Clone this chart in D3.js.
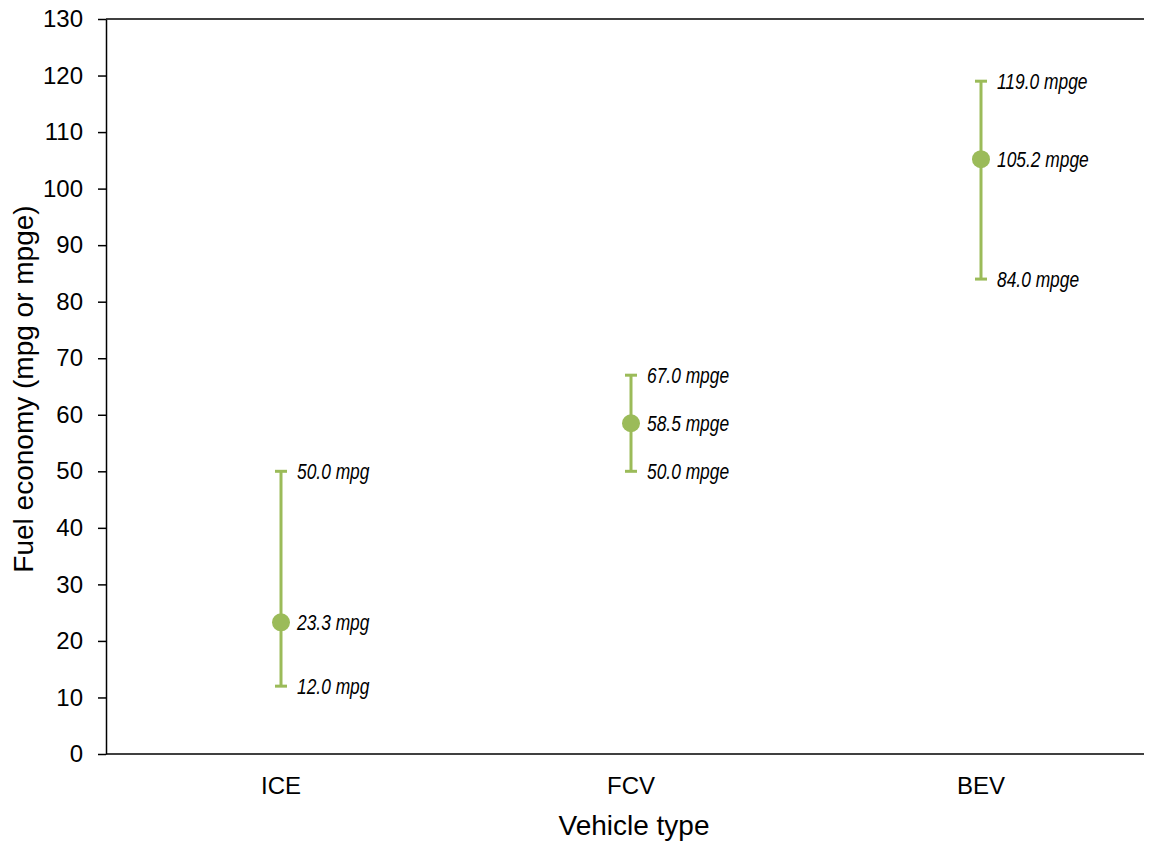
<!DOCTYPE html>
<html>
<head>
<meta charset="utf-8">
<script src="https://cdn.jsdelivr.net/npm/d3@7"></script>
<style>
  body { margin: 0; background: #fff; }
  text { font-family: "Liberation Sans", Arial, sans-serif; }
</style>
</head>
<body>
<script>
var categories = ["ICE", "FCV", "BEV"];
var meanValues = [23.3, 58.5, 105.2];
var lowValues = [12.0, 50.0, 84.0];
var highValues = [50.0, 67.0, 119.0];
var units = ["mpg", "mpge", "mpge"];
var yTicks = d3.range(0, 131, 10);

var width = 1151, height = 842;
var plotLeft = 106, plotRight = 1144, plotTop = 19, plotBottom = 754;
var green = "#9bbb59";

var svg = d3.select("body").append("svg")
    .attr("width", width)
    .attr("height", height);

var x = d3.scalePoint()
    .domain(categories)
    .range([plotLeft, plotLeft + 1050])
    .padding(0.5);

var y = d3.scaleLinear()
    .domain([0, 130])
    .range([plotBottom, plotTop]);

// y axis
var yAxis = d3.axisLeft(y)
    .tickValues(yTicks)
    .tickSize(8)
    .tickSizeOuter(0);
var gy = svg.append("g")
    .attr("transform", `translate(${plotLeft},0)`)
    .call(yAxis);
gy.select(".domain").attr("stroke", "#000").attr("stroke-width", 1.5);
gy.selectAll(".tick line").attr("stroke", "#000").attr("stroke-width", 1.5);
gy.selectAll(".tick text")
    .attr("x", -23)
    .style("font-size", "24px")
    .attr("fill", "#000");

// frame top and bottom
svg.append("line")
    .attr("x1", plotLeft).attr("x2", plotRight)
    .attr("y1", y(130)).attr("y2", y(130))
    .attr("stroke", "#000").attr("stroke-width", 1.5);
svg.append("line")
    .attr("x1", plotLeft).attr("x2", plotRight)
    .attr("y1", y(0)).attr("y2", y(0))
    .attr("stroke", "#000").attr("stroke-width", 1.5);

// category labels
svg.selectAll(".cat")
    .data(categories)
    .enter()
    .append("text")
    .attr("class", "cat")
    .attr("x", d => x(d))
    .attr("y", 794)
    .attr("text-anchor", "middle")
    .style("font-size", "24px")
    .text(d => d);

// axis titles
svg.append("text")
    .attr("x", 634)
    .attr("y", 835)
    .attr("text-anchor", "middle")
    .style("font-size", "28px")
    .text("Vehicle type");
svg.append("text")
    .attr("transform", `translate(33,389) rotate(-90)`)
    .attr("text-anchor", "middle")
    .style("font-size", "28px")
    .text("Fuel economy (mpg or mpge)");

// error bars
var g = svg.selectAll(".bar")
    .data(categories)
    .enter()
    .append("g")
    .attr("class", "bar");

g.append("line")
    .attr("x1", d => x(d)).attr("x2", d => x(d))
    .attr("y1", (d, i) => y(lowValues[i]))
    .attr("y2", (d, i) => y(highValues[i]))
    .attr("stroke", green).attr("stroke-width", 3);

g.append("line")
    .attr("x1", d => x(d) - 6).attr("x2", d => x(d) + 6)
    .attr("y1", (d, i) => y(lowValues[i]))
    .attr("y2", (d, i) => y(lowValues[i]))
    .attr("stroke", green).attr("stroke-width", 3);

g.append("line")
    .attr("x1", d => x(d) - 6).attr("x2", d => x(d) + 6)
    .attr("y1", (d, i) => y(highValues[i]))
    .attr("y2", (d, i) => y(highValues[i]))
    .attr("stroke", green).attr("stroke-width", 3);

g.append("circle")
    .attr("cx", d => x(d))
    .attr("cy", (d, i) => y(meanValues[i]))
    .attr("r", 9)
    .attr("fill", green);

// value labels (condensed italic, squeezed horizontally)
function addLabel(vals) {
    g.append("text")
        .attr("transform", (d, i) => `translate(${x(d) + 16},${y(vals[i])}) scale(0.79,1)`)
        .attr("dy", "0.35em")
        .style("font-size", "22px")
        .style("font-style", "italic")
        .text((d, i) => vals[i].toFixed(1) + " " + units[i]);
}
addLabel(lowValues);
addLabel(meanValues);
addLabel(highValues);
</script>
</body>
</html>
